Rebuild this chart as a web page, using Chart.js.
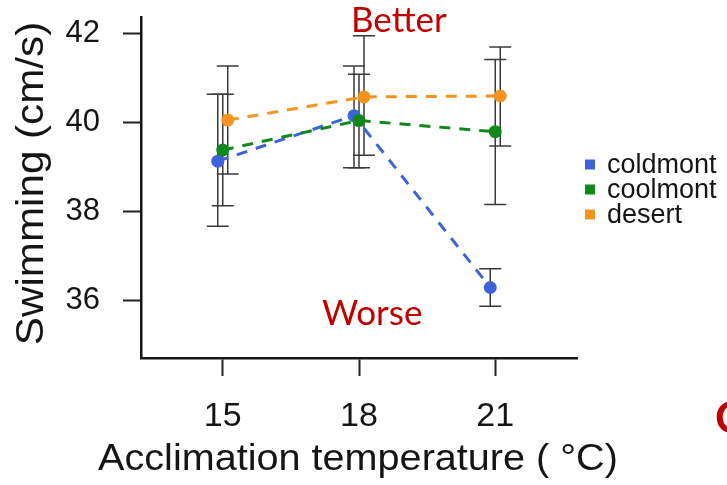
<!DOCTYPE html>
<html>
<head>
<meta charset="utf-8">
<script src="https://cdn.jsdelivr.net/npm/chart.js@4.4.1/dist/chart.umd.min.js"></script>
<style>
  html, body { margin: 0; padding: 0; background: #ffffff; }
  canvas { display: block; }
</style>
</head>
<body>
<canvas id="chart" width="727" height="485"></canvas>
<script>
// Acclimation temperatures (°C)
const TEMPS = [15, 18, 21];
const Y_TICKS = [36, 38, 40, 42];

// Mean swimming speed (cm/s) with error-bar limits, one set per population
const coldmont     = [39.13, 40.15, 36.30];
const coldmontLow  = [37.67, 38.98, 35.88];
const coldmontHigh = [40.63, 41.26, 36.72];

const coolmont     = [39.38, 40.04, 39.79];
const coolmontLow  = [38.13, 38.98, 38.16];
const coolmontHigh = [40.63, 41.08, 41.41];

const desert       = [40.05, 40.57, 40.59];
const desertLow    = [38.84, 39.26, 39.47];
const desertHigh   = [41.26, 41.94, 41.69];

const X_TITLE = 'Acclimation temperature ( °C)';
const Y_TITLE = 'Swimming (cm/s)';

const FONT = '"Liberation Sans", Arial, Helvetica, sans-serif';
const INK = '#151515';

// small horizontal dodge so overlapping groups stay readable
function series(label, values, low, high, color, dodge, order) {
  return {
    label,
    data: TEMPS.map((t, i) => ({ x: t + dodge, y: values[i] })),
    errLow: low,
    errHigh: high,
    borderColor: color,
    backgroundColor: color,
    pointBackgroundColor: color,
    pointBorderWidth: 0,
    pointRadius: 6.5,
    borderWidth: 3,
    borderDash: [11, 9],
    tension: 0,
    order
  };
}

const datasets = [
  series('coldmont', coldmont, coldmontLow, coldmontHigh, '#3d63d9', -0.11, 3),
  series('coolmont', coolmont, coolmontLow, coolmontHigh, '#10881c', 0, 2),
  series('desert',   desert,   desertLow,   desertHigh,   '#f5931f', 0.11, 1)
];

// vertical error bars with caps, drawn underneath the points
const errorBars = {
  id: 'errorBars',
  beforeDatasetsDraw(chart) {
    const { ctx } = chart;
    const y = chart.scales.y;
    ctx.save();
    ctx.strokeStyle = '#3a3a3a';
    ctx.lineWidth = 1.5;
    chart.data.datasets.forEach((ds, di) => {
      const meta = chart.getDatasetMeta(di);
      meta.data.forEach((pt, i) => {
        const px = pt.x;
        const yl = y.getPixelForValue(ds.errLow[i]);
        const yh = y.getPixelForValue(ds.errHigh[i]);
        const cap = 11;
        ctx.beginPath();
        ctx.moveTo(px, yl); ctx.lineTo(px, yh);
        ctx.moveTo(px - cap, yl); ctx.lineTo(px + cap, yl);
        ctx.moveTo(px - cap, yh); ctx.lineTo(px + cap, yh);
        ctx.stroke();
      });
    });
    ctx.restore();
  }
};

// draws text with a slight widening along its own direction
function wideText(ctx, text, x, y, angle, stretch) {
  ctx.save();
  ctx.translate(x, y);
  ctx.rotate(angle);
  ctx.scale(stretch, 1);
  ctx.fillText(text, 0, 0);
  ctx.restore();
}

// axis titles, legend to the right of the plot, and the red notes
const sideNotes = {
  id: 'sideNotes',
  afterDraw(chart) {
    const { ctx, chartArea } = chart;
    ctx.save();

    ctx.fillStyle = INK;
    ctx.textAlign = 'center';
    ctx.textBaseline = 'alphabetic';
    ctx.font = '36px ' + FONT;
    wideText(ctx, X_TITLE, (chartArea.left + chartArea.right) / 2 - 1, 470, 0, 1.10);
    ctx.font = '38px ' + FONT;
    wideText(ctx, Y_TITLE, 43, (chartArea.top + chartArea.bottom) / 2 - 4, -Math.PI / 2, 1.11);

    ctx.font = '27px ' + FONT;
    ctx.textBaseline = 'middle';
    ctx.textAlign = 'left';
    const mid = (chartArea.top + chartArea.bottom) / 2 + 2;
    chart.data.datasets.forEach((ds, i) => {
      const cy = mid + (i - 1) * 25;
      ctx.fillStyle = ds.backgroundColor;
      ctx.fillRect(chartArea.right + 8, cy - 5, 10, 10);
      ctx.fillStyle = INK;
      ctx.fillText(ds.label, chartArea.right + 30, cy + 1);
    });

    ctx.fillStyle = '#c00000';
    ctx.textBaseline = 'alphabetic';
    ctx.font = '35px Lato, "Open Sans", sans-serif';
    ctx.fillText('Better', 351, 32);
    ctx.fillText('Worse', 322, 325);
    ctx.font = 'bold 44px Lato, "Open Sans", sans-serif';
    ctx.fillText('C', 715, 433);
    ctx.restore();
  }
};

Chart.defaults.font.family = FONT;
Chart.defaults.color = INK;

new Chart(document.getElementById('chart'), {
  type: 'line',
  data: { datasets },
  options: {
    responsive: false,
    animation: false,
    devicePixelRatio: 1,
    layout: { padding: { top: 17, right: 150, left: 0, bottom: 0 } },
    plugins: { legend: { display: false }, tooltip: { enabled: false } },
    scales: {
      x: {
        type: 'linear',
        min: 13.2,
        max: 22.8,
        afterBuildTicks: s => { s.ticks = TEMPS.map(v => ({ value: v })); },
        afterFit: s => { s.height = 127; s.paddingLeft = 0; s.paddingRight = 0; },
        ticks: { font: { size: 34 }, color: INK, padding: 20, callback: v => String(v) },
        grid: { drawOnChartArea: false, drawTicks: true, tickLength: 18, tickWidth: 2, tickColor: '#222' },
        border: { display: true, color: INK, width: 2.5 }
      },
      y: {
        min: 34.72,
        max: 42.36,
        afterBuildTicks: s => { s.ticks = Y_TICKS.map(v => ({ value: v })); },
        afterFit: s => { s.width = 141; s.paddingTop = 0; s.paddingBottom = 0; },
        ticks: { font: { size: 31 }, color: INK, padding: 23, callback: v => String(v) },
        grid: { drawOnChartArea: false, drawTicks: true, tickLength: 18, tickWidth: 2, tickColor: '#222' },
        border: { display: true, color: INK, width: 2.5 }
      }
    }
  },
  plugins: [errorBars, sideNotes]
});
</script>
</body>
</html>
